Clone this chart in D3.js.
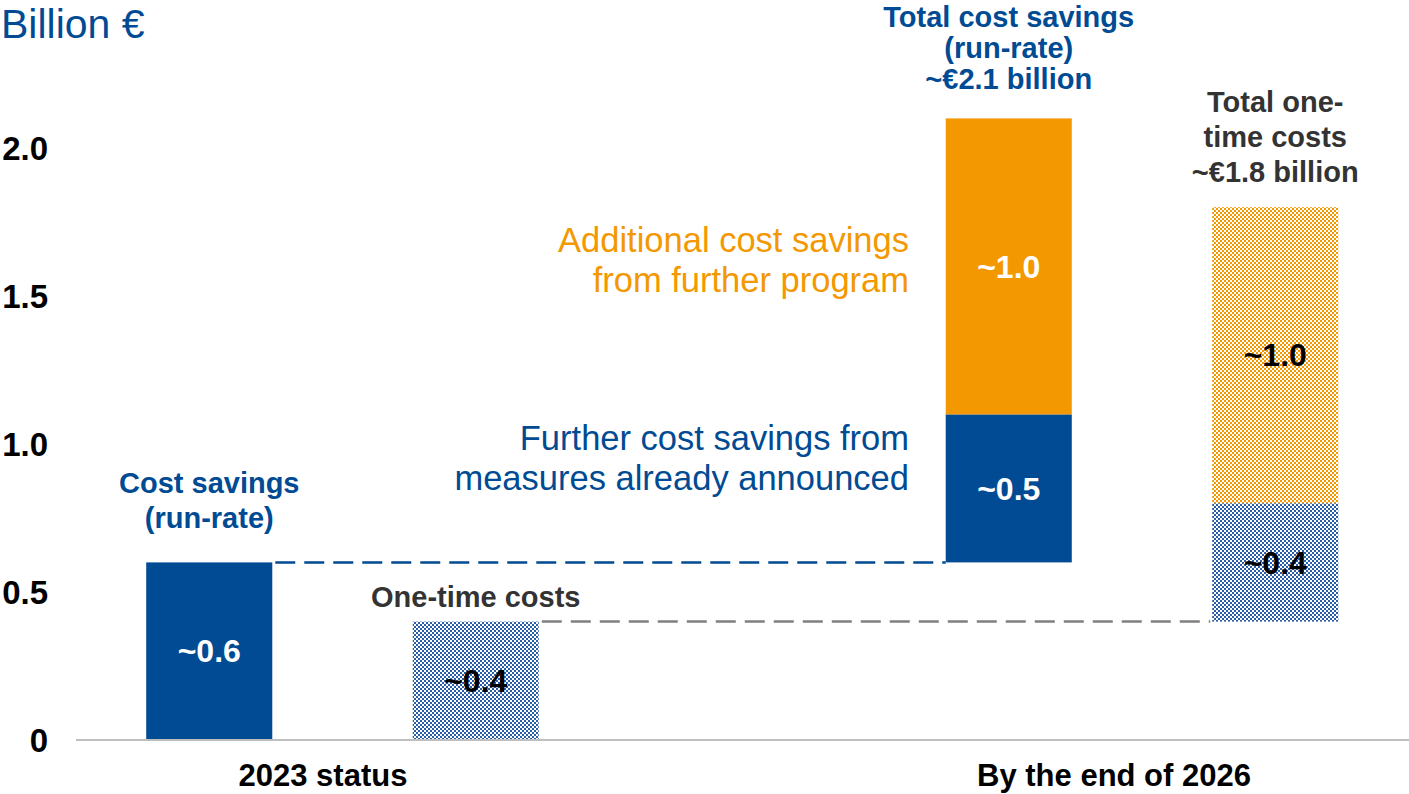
<!DOCTYPE html>
<html>
<head>
<meta charset="utf-8">
<script src="https://cdn.jsdelivr.net/npm/d3@7"></script>
<style>
  body { margin: 0; background: #fff; }
  text { font-family: "Liberation Sans", Arial, sans-serif; }
</style>
</head>
<body>
<svg id="chart" width="1409" height="794"></svg>
<script>
// slots on the x axis (one empty slot in the middle)
var slots = ["savings2023", "costs2023", "gap", "savings2026", "costs2026"];
var yTicks = [0, 0.5, 1.0, 1.5, 2.0];
var tickLabels = ["0", "0.5", "1.0", "1.5", "2.0"];

// stacked segments: slot, from, to, fill, label, label colour
var segments = [
  ["savings2023", 0, 0.6, "blue", "~0.6", "#fff"],
  ["costs2023", 0, 0.4, "blueHatch", "~0.4", "#000"],
  ["savings2026", 0.6, 1.1, "blue", "~0.5", "#fff"],
  ["savings2026", 1.1, 2.1, "orange", "~1.0", "#fff"],
  ["costs2026", 0.4, 0.8, "blueHatch", "~0.4", "#000"],
  ["costs2026", 0.8, 1.8, "orangeHatch", "~1.0", "#000"]
];

var groupLabels = [["2023 status", 323], ["By the end of 2026", 1114]];

var BLUE = "#004B93", ORANGE = "#F39800", GREY = "#333";

var svg = d3.select("#chart");

// checkerboard patterns
var defs = svg.append("defs");
function checker(id, color) {
  var p = defs.append("pattern").attr("id", id)
    .attr("patternUnits", "userSpaceOnUse").attr("width", 4).attr("height", 4);
  p.append("rect").attr("width", 4).attr("height", 4).attr("fill", "#fff");
  p.append("rect").attr("width", 2).attr("height", 2).attr("fill", color);
  p.append("rect").attr("x", 2).attr("y", 2).attr("width", 2).attr("height", 2).attr("fill", color);
}
checker("blueHatch", "#2a5ea8");
checker("orangeHatch", ORANGE);
var fills = { blue: BLUE, orange: ORANGE, blueHatch: "url(#blueHatch)", orangeHatch: "url(#orangeHatch)" };

var x = d3.scaleBand().domain(slots).range([76, 1408.5]).paddingInner(0.527).paddingOuter(0.2635);
var y = d3.scaleLinear().domain([0, 2]).range([740, 148]);

// y tick labels
svg.selectAll("text.tick").data(yTicks).enter().append("text")
  .attr("class", "tick")
  .attr("x", 48).attr("y", function(d){ return y(d); })
  .attr("dy", "0.35em")
  .attr("text-anchor", "end")
  .style("font-size", "33px").style("font-weight", "bold")
  .text(function(d, i){ return tickLabels[i]; });

// dashed connector lines
svg.append("line")
  .attr("x1", x("savings2023") + x.bandwidth() + 3).attr("x2", x("savings2026"))
  .attr("y1", y(0.6)).attr("y2", y(0.6))
  .attr("stroke", BLUE).attr("stroke-width", 2.5).attr("stroke-dasharray", "20,9");
svg.append("line")
  .attr("x1", x("costs2023") + x.bandwidth() + 3).attr("x2", x("costs2026") - 2)
  .attr("y1", y(0.4)).attr("y2", y(0.4))
  .attr("stroke", "#808080").attr("stroke-width", 2.5).attr("stroke-dasharray", "20,9");

// bars
svg.selectAll("rect.seg").data(segments).enter().append("rect")
  .attr("class", "seg")
  .attr("x", function(d){ return x(d[0]); })
  .attr("width", x.bandwidth())
  .attr("y", function(d){ return y(d[2]); })
  .attr("height", function(d){ return y(d[1]) - y(d[2]); })
  .attr("fill", function(d){ return fills[d[3]]; });

svg.selectAll("text.seg").data(segments).enter().append("text")
  .attr("class", "seg")
  .attr("x", function(d){ return x(d[0]) + x.bandwidth() / 2; })
  .attr("y", function(d){ return y((d[1] + d[2]) / 2); })
  .attr("dy", "0.35em")
  .attr("text-anchor", "middle")
  .style("font-size", "32px").style("font-weight", "bold")
  .attr("fill", function(d){ return d[5]; })
  .text(function(d){ return d[4]; });

// axis line
svg.append("line").attr("x1", 76).attr("x2", 1409).attr("y1", 740).attr("y2", 740)
  .attr("stroke", "#bfbfbf").attr("stroke-width", 2);

// group labels
svg.selectAll("text.group").data(groupLabels).enter().append("text")
  .attr("class", "group")
  .attr("x", function(d){ return d[1]; }).attr("y", 786)
  .attr("text-anchor", "middle")
  .style("font-size", "31px").style("font-weight", "bold")
  .text(function(d){ return d[0]; });

// unit
svg.append("text").attr("x", 1).attr("y", 38)
  .style("font-size", "41px").attr("fill", BLUE).text("Billion €");

// annotations
function block(lines, cx, y0, lh, size, weight, color, anchor) {
  var t = svg.append("text").attr("text-anchor", anchor || "middle")
    .style("font-size", size + "px").style("font-weight", weight).attr("fill", color);
  lines.forEach(function(l, i){
    t.append("tspan").attr("x", cx).attr("y", y0 + i * lh).text(l);
  });
}
var c = function(k){ return x(k) + x.bandwidth() / 2; };
block(["Cost savings", "(run-rate)"], c("savings2023"), 493, 35, 29, "bold", BLUE);
block(["One-time costs"], c("costs2023"), 607, 35, 29, "bold", GREY);
block(["Total cost savings", "(run-rate)", "~€2.1 billion"], c("savings2026"), 27, 31, 29, "bold", BLUE);
block(["Total one-", "time costs", "~€1.8 billion"], c("costs2026"), 112, 35, 29, "bold", GREY);
block(["Additional cost savings", "from further program"], 909, 252, 40, 34.5, "normal", ORANGE, "end");
block(["Further cost savings from", "measures already announced"], 909, 450, 40, 34.5, "normal", BLUE, "end");
</script>
</body>
</html>
